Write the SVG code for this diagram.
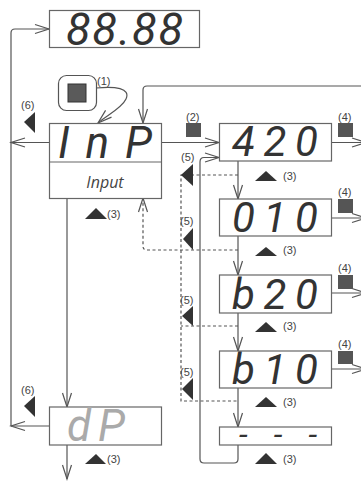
<svg xmlns="http://www.w3.org/2000/svg" width="361" height="481" viewBox="0 0 361 481">
<style>
.box{fill:#fff;stroke:#666;stroke-width:1.2}
.ln{fill:none;stroke:#555;stroke-width:1.2}
.dash{stroke-dasharray:3 2.5}
.seg{font-family:Roboto,"DejaVu Sans",sans-serif;font-style:italic;font-weight:400;fill:#333}
.lbl{font-family:"Liberation Sans",Arial,sans-serif;font-size:11px;fill:#444}
.tri{fill:#333}
.sq{fill:#555}
</style>
<defs>
<marker id="ah" markerUnits="userSpaceOnUse" markerWidth="16" markerHeight="12" viewBox="-15 -6 16 12" refX="0" refY="0" orient="auto" overflow="visible">
<path d="M-14,-4.5 L0,0 L-14,4.5" fill="none" stroke="#555" stroke-width="1.2"/>
</marker>
</defs>

<g id="connectors">
<path class="ln" d="M11,426 V33 Q11,29 15,29 H49" marker-end="url(#ah)"/>
<path class="ln" d="M96,88 C115,86 131,88 126,99 C122,108 106,116 98,123" marker-end="url(#ah)"/>
<path class="ln" d="M361,86 H147 Q143,86 143,90 V123" marker-end="url(#ah)"/>
<path class="ln" d="M49,142.5 H11" marker-end="url(#ah)"/>
<path class="ln" d="M162,142.5 H219" marker-end="url(#ah)"/>
<path class="ln" d="M238,445 V459 Q238,463 234,463 H204 Q200,463 200,459 V162 Q200,157.5 204,157.5 H219" marker-end="url(#ah)"/>
<path class="ln" d="M238,161 V199" marker-end="url(#ah)"/>
<path class="ln" d="M238,236 V275" marker-end="url(#ah)"/>
<path class="ln" d="M238,313 V351" marker-end="url(#ah)"/>
<path class="ln" d="M238,388 V427" marker-end="url(#ah)"/>
<path class="ln" d="M332,142.5 H366" marker-end="url(#ah)"/>
<path class="ln" d="M332,218 H366" marker-end="url(#ah)"/>
<path class="ln" d="M332,293 H366" marker-end="url(#ah)"/>
<path class="ln" d="M332,369 H366" marker-end="url(#ah)"/>
<path class="ln" d="M67,198 V407" marker-end="url(#ah)"/>
<path class="ln" d="M67,445 V479" marker-end="url(#ah)"/>
<path class="ln" d="M49,426 H11" marker-end="url(#ah)"/>
<path class="ln dash" d="M238,175 H181 V401 H238"/>
<path class="ln dash" d="M238,326 H181"/>
<path class="ln dash" d="M238,250 H147 Q143,250 143,246 V198" marker-end="url(#ah)"/>
</g>

<g id="node-display">
<rect class="box" x="49.5" y="10.5" width="150" height="37"/>
<text class="seg" x="66" y="45" font-size="45" textLength="117" lengthAdjust="spacing">88.88</text>
</g>

<g id="node-button">
<rect x="58.5" y="75.5" width="38" height="35" rx="8" fill="#fff" stroke="#555" stroke-width="1.2"/>
<rect x="68" y="84" width="18" height="18" fill="#5a5a5a" stroke="#333" stroke-width="1"/>
<text class="lbl" x="97" y="85">(1)</text>
</g>

<g id="node-inp">
<rect class="box" x="49.5" y="123.5" width="112" height="75"/>
<line x1="49.5" y1="162" x2="161.5" y2="162" stroke="#666" stroke-width="1.2"/>
<text class="seg" x="58" y="158" font-size="44" textLength="94" lengthAdjust="spacing">InP</text>
<text x="105" y="188" text-anchor="middle" font-family="'Open Sans','DejaVu Sans',sans-serif" font-style="italic" font-size="16" fill="#444">Input</text>
</g>

<g id="node-420">
<rect class="box" x="219.5" y="123.5" width="112" height="37.5"/>
<text class="seg" x="232" y="156" font-size="42" textLength="86" lengthAdjust="spacing">420</text>
</g>
<g id="node-010">
<rect class="box" x="219.5" y="199" width="112" height="37"/>
<text class="seg" x="232" y="232" font-size="42" textLength="86" lengthAdjust="spacing">010</text>
</g>
<g id="node-b20">
<rect class="box" x="219.5" y="275" width="112" height="38"/>
<text class="seg" x="232" y="309" font-size="42" textLength="86" lengthAdjust="spacing">b20</text>
</g>
<g id="node-b10">
<rect class="box" x="219.5" y="351" width="112" height="37"/>
<text class="seg" x="232" y="384" font-size="42" textLength="86" lengthAdjust="spacing">b10</text>
</g>
<g id="node-dashes">
<rect class="box" x="219.5" y="427" width="112" height="18"/>
<text class="seg" x="239" y="445" font-size="32" font-weight="700" textLength="78" lengthAdjust="spacing">---</text>
</g>
<g id="node-dp">
<rect class="box" x="49.5" y="407" width="112" height="38"/>
<text class="seg" x="67" y="441" font-size="44" textLength="58" lengthAdjust="spacing" style="fill:#aaa">dP</text>
</g>

<g id="annotations">
<text class="lbl" x="21" y="109">(6)</text>
<polygon class="tri" points="24,122 35,112 35,133"/>
<text class="lbl" x="21" y="394">(6)</text>
<polygon class="tri" points="24,406 35,396 35,417"/>
<polygon class="tri" points="85,219 96,208 107,219"/>
<text class="lbl" x="107" y="218">(3)</text>
<polygon class="tri" points="85,464 96,454 106,464"/>
<text class="lbl" x="107" y="463">(3)</text>
<text class="lbl" x="186" y="121">(2)</text>
<rect class="sq" x="186" y="123" width="15" height="14"/>
<text class="lbl" x="181" y="161">(5)</text>
<polygon class="tri" points="181,175 193,164 193,186"/>
<text class="lbl" x="180" y="225">(5)</text>
<polygon class="tri" points="183,239 193,228 193,250"/>
<text class="lbl" x="180" y="304">(5)</text>
<polygon class="tri" points="182,316 193,306 193,326"/>
<text class="lbl" x="180" y="376">(5)</text>
<polygon class="tri" points="182,389 193,378 193,400"/>
<polygon class="tri" points="255,181 266,171 277,181"/>
<text class="lbl" x="283" y="180">(3)</text>
<polygon class="tri" points="255,256 266,247 277,256"/>
<text class="lbl" x="283" y="254">(3)</text>
<polygon class="tri" points="255,332 266,322 277,332"/>
<text class="lbl" x="283" y="330">(3)</text>
<polygon class="tri" points="255,407 266,397 277,407"/>
<text class="lbl" x="283" y="406">(3)</text>
<polygon class="tri" points="255,464 266,453 277,464"/>
<text class="lbl" x="283" y="463">(3)</text>
<text class="lbl" x="338" y="121">(4)</text>
<rect class="sq" x="338" y="123" width="15" height="14"/>
<text class="lbl" x="338" y="196">(4)</text>
<rect class="sq" x="338" y="199" width="15" height="14"/>
<text class="lbl" x="338" y="272">(4)</text>
<rect class="sq" x="338" y="275" width="15" height="14"/>
<text class="lbl" x="338" y="348">(4)</text>
<rect class="sq" x="338" y="351" width="15" height="13"/>
</g>
</svg>
